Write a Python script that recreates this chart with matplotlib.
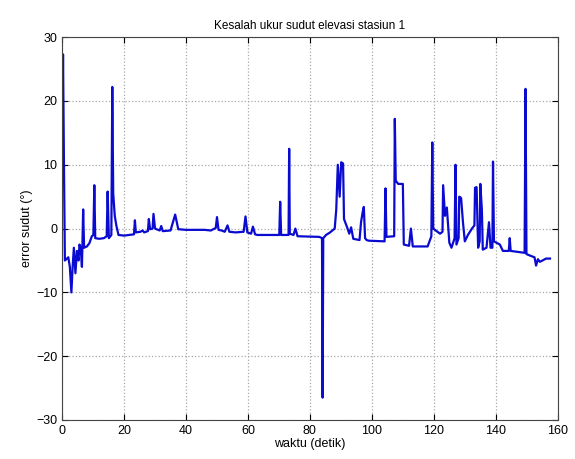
import matplotlib.pyplot as plt

# data (time in s, error in degrees)
waktu = [0.0, 0.3, 0.6, 0.9, 2.0, 2.5, 3.0, 3.4, 3.8, 4.3, 4.8, 5.3, 5.6, 6.0, 6.4, 6.8, 7.1,
         8.0, 8.8, 9.6, 10.1, 10.4, 10.7, 12.0, 13.5, 14.4, 14.7, 15.1, 15.9, 16.2, 16.5,
         17.0, 17.5, 18.2, 20.0, 23.2, 23.5, 23.8, 25.3, 26.0, 26.5, 27.7, 28.0, 28.4,
         29.2, 29.5, 30.0, 31.5, 32.0, 32.5, 35.0, 36.5, 37.5, 40.0, 46.0, 48.0, 49.6,
         50.0, 50.5, 51.5, 52.5, 53.4, 54.0, 56.0, 58.6, 59.2, 59.8, 61.0, 61.6, 62.3,
         63.0, 70.1, 70.4, 70.7, 73.1, 73.3, 73.5, 74.7, 75.3, 76.0, 83.0, 83.9, 84.1,
         84.3, 85.2, 86.5, 88.0, 88.5, 89.0, 89.6, 90.1, 90.7, 91.0, 92.0, 92.7, 93.3,
         94.0, 96.0, 96.5, 97.0, 97.4, 97.8, 98.3, 99.0, 104.1, 104.4, 104.7, 106.9,
         107.2, 107.4, 107.7, 108.5, 110.0, 110.3, 112.0, 112.6, 113.2, 118.0, 119.2,
         119.5, 119.8, 122.0, 122.8, 123.0, 123.6, 124.2, 125.0, 125.7, 126.7, 127.0,
         127.3, 128.0, 128.2, 128.8, 129.4, 130.0, 131.0, 132.3, 133.1, 133.3, 133.8,
         134.3, 134.8, 135.0, 135.5, 135.8, 137.0, 137.8, 138.3, 138.9, 139.1, 139.4,
         141.3, 142.3, 144.2, 144.5, 144.8, 149.3, 149.6, 149.9, 151.4, 152.5, 153.0,
         153.6, 154.2, 155.1, 156.2, 157.5]
error_sudut = [8.0, 27.3, 10.0, -5.0, -4.5, -6.0, -10.0, -6.0, -3.0, -7.0, -3.5, -5.0, -2.5,
               -3.0, -6.0, 3.0, -3.0, -2.8, -2.3, -1.2, -1.0, 6.8, -1.5, -1.6, -1.5,
               -1.2, 5.8, -1.5, -1.0, 22.2, 5.5, 2.0, 0.5, -1.0, -1.1, -0.9, 1.3, -0.6,
               -0.5, -0.3, -0.6, -0.4, 1.5, -0.1, 0.0, 2.3, 0.0, -0.3, 0.4, -0.4, -0.3,
               2.2, -0.1, -0.2, -0.2, -0.3, 0.1, 1.8, -0.2, -0.3, -0.5, 0.5, -0.5, -0.6,
               -0.5, 1.9, -0.6, -0.8, 0.3, -0.9, -1.0, -1.0, 4.2, -1.0, -1.0, 12.5, -0.8,
               -1.0, 0.0, -1.2, -1.3, -1.5, -26.5, -1.5, -1.0, -0.6, 0.0, 3.0, 10.0, 5.0,
               10.4, 10.2, 1.5, 0.2, -0.8, 0.2, -1.6, -1.8, 1.0, 2.5, 3.4, -1.5, -1.8,
               -1.9, -2.0, 6.3, -1.3, -1.2, -1.2, 17.2, 7.5, 7.0, 7.0, -2.5, -2.7, 0.0,
               -2.8, -2.8, -1.2, 13.5, 0.0, -0.8, -0.5, 6.8, 2.0, 3.3, -2.2, -3.0, -1.5,
               10.0, -2.5, -1.5, 5.0, 4.8, 1.0, -2.0, -1.0, 0.0, 0.5, 6.4, 6.5, -3.0,
               -2.0, 7.0, 3.0, -3.3, -3.0, 1.0, -3.0, -3.0, 10.5, -2.0, -2.5, -3.5, -3.5,
               -1.5, -3.5, -3.8, 21.9, -4.0, -4.3, -4.5, -5.8, -4.8, -5.2, -5.0, -4.7,
               -4.7]

x_ticks = [0, 20, 40, 60, 80, 100, 120, 140, 160]
y_ticks = [-30, -20, -10, 0, 10, 20, 30]

plt.rcParams['font.family'] = ['Liberation Sans', 'DejaVu Sans']

fig = plt.figure(figsize=(5.75, 4.59), dpi=100)
ax = fig.add_axes([0.108, 0.085, 0.862, 0.834])

ax.plot(waktu, error_sudut, color="#0a0ad0", linewidth=1.6)

ax.set_xlim(0, 160)
ax.set_ylim(-30, 30)
ax.set_xticks(x_ticks)
ax.set_yticks(y_ticks)
ax.tick_params(direction="in", top=True, right=True, labelsize=9, length=4)
ax.grid(True, linestyle=":", color="#a8a8a8", linewidth=0.9)
for s in ax.spines.values():
    s.set_color("#444444")

ax.set_title("Kesalah ukur sudut elevasi stasiun 1", fontsize=8.5)
ax.set_xlabel("waktu (detik)", fontsize=9, labelpad=1)
ax.set_ylabel("error sudut (°)", fontsize=9, labelpad=2)

plt.savefig("out.png", dpi=100)
